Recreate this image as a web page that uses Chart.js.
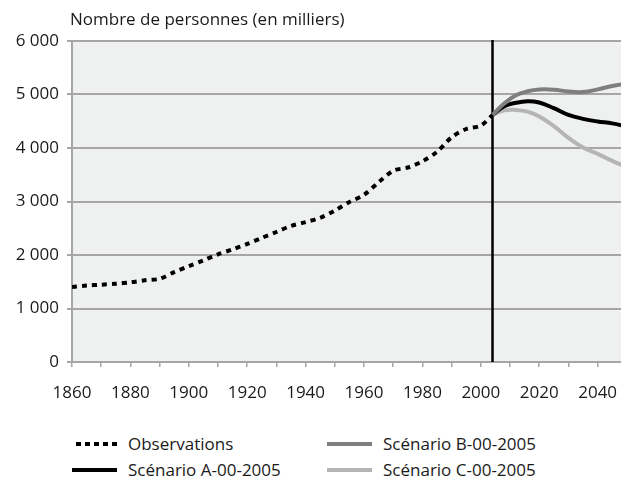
<!DOCTYPE html>
<html>
<head>
<meta charset="utf-8">
<script src="https://cdn.jsdelivr.net/npm/chart.js@4.4.1/dist/chart.umd.min.js"></script>
<style>
  body { margin: 0; background: #fff; font-family: "Open Sans", sans-serif; color: #1a1a1a; }
  #wrap { position: relative; width: 621px; height: 482px; }
  #chart { position: absolute; left: 0; top: 0; }
  .leg { position: absolute; font-size: 17px; line-height: 20px; white-space: nowrap; }
  .leg .s { position: absolute; top: 8px; width: 45px; height: 4px; }
  .leg .t { position: absolute; left: 56px; top: 0; }
</style>
</head>
<body>
<div id="wrap">
  <canvas id="chart" width="621" height="415"></canvas>
  <div id="legende"></div>
</div>
<script>
// Valeurs (milliers de personnes)
const anneesObs = [1860, 1865, 1870, 1875, 1880, 1885, 1890, 1895, 1900, 1905, 1910, 1915, 1920, 1925, 1930,
  1935, 1940, 1945, 1950, 1955, 1960, 1965, 1970, 1975, 1980, 1985, 1990, 1995, 2000, 2004];
const observations = [1400, 1428, 1445, 1462, 1490, 1528, 1555, 1680, 1790, 1900, 2013, 2105, 2206, 2320, 2430,
  2545, 2615, 2695, 2830, 2990, 3125, 3360, 3575, 3635, 3750, 3930, 4200, 4355, 4420, 4617];

const anneesProj = [2004, 2008, 2012, 2016, 2020, 2025, 2030, 2035, 2040, 2045, 2050];
const scenarioA = [4617, 4780, 4845, 4875, 4850, 4745, 4620, 4545, 4495, 4460, 4400];
const scenarioB = [4617, 4830, 4985, 5060, 5095, 5090, 5055, 5045, 5095, 5160, 5200];
const scenarioC = [4617, 4705, 4712, 4680, 4590, 4410, 4190, 4010, 3890, 3760, 3640];

const anneeCoupure = 2004;
const graduationsX = [1860, 1870, 1880, 1890, 1900, 1910, 1920, 1930, 1940, 1950, 1960, 1970, 1980, 1990,
  2000, 2010, 2020, 2030, 2040];
const titreY = 'Nombre de personnes (en milliers)';

const police = "'Open Sans', sans-serif";
const gris = '#a6a6a6';

function points(xs, ys) {
  return xs.map((x, i) => ({ x: x, y: ys[i] }));
}

const series = [
  { label: 'Observations', data: points(anneesObs, observations), borderColor: '#000', borderDash: [5, 5], tension: 0.3 },
  { label: 'Scénario B-00-2005', data: points(anneesProj, scenarioB), borderColor: '#7f7f7f', tension: 0.4 },
  { label: 'Scénario A-00-2005', data: points(anneesProj, scenarioA), borderColor: '#000', tension: 0.4 },
  { label: 'Scénario C-00-2005', data: points(anneesProj, scenarioC), borderColor: '#b5b5b5', tension: 0.4 }
];

// fond gris, trait vertical et titre de l'axe
const decor = {
  id: 'decor',
  beforeDraw(chart) {
    const a = chart.chartArea, c = chart.ctx;
    c.save();
    c.fillStyle = '#eff0f0';
    c.fillRect(a.left, a.top, a.right - a.left, a.bottom - a.top);
    c.fillStyle = '#1a1a1a';
    c.font = '17px ' + police;
    c.textBaseline = 'middle';
    c.fillText(titreY, a.left - 2, a.top - 21);
    c.restore();
  },
  beforeDatasetsDraw(chart) {
    const a = chart.chartArea, c = chart.ctx;
    const x = chart.scales.x.getPixelForValue(anneeCoupure);
    c.save();
    c.strokeStyle = '#000';
    c.lineWidth = 2.5;
    c.beginPath();
    c.moveTo(x, a.top - 1);
    c.lineTo(x, a.bottom);
    c.stroke();
    c.restore();
  }
};

const ctx = document.getElementById('chart').getContext('2d');
new Chart(ctx, {
  type: 'line',
  data: {
    datasets: series.map(s => Object.assign({ borderWidth: 4, pointRadius: 0, fill: false, borderCapStyle: 'butt' }, s))
  },
  options: {
    responsive: false,
    animation: false,
    layout: { padding: { top: 41, right: 0, left: 0, bottom: 0 } },
    plugins: { legend: { display: false }, tooltip: { enabled: false } },
    scales: {
      x: {
        type: 'linear',
        min: 1860,
        max: 2048,
        afterBuildTicks(scale) { scale.ticks = graduationsX.map(v => ({ value: v })); },
        afterFit(scale) {
          scale.height = 53;
          scale.paddingLeft = 0;
          scale.paddingRight = 0;
        },
        ticks: {
          autoSkip: false,
          maxRotation: 0,
          color: '#1a1a1a',
          font: { family: police, size: 17 },
          padding: 16,
          callback: v => (v % 20 === 0 ? String(v) : '')
        },
        grid: { drawOnChartArea: false, drawTicks: true, tickLength: 5, color: gris, lineWidth: 1.5 },
        border: { color: gris, width: 2 }
      },
      y: {
        min: 0,
        max: 6000,
        afterFit(scale) { scale.width = 72; },
        ticks: {
          stepSize: 1000,
          color: '#1a1a1a',
          font: { family: police, size: 17 },
          padding: 8,
          callback: v => String(v).replace(/\B(?=(\d{3})+(?!\d))/g, ' ')
        },
        grid: { color: gris, lineWidth: 2, tickLength: 5 },
        border: { color: gris, width: 2 }
      }
    }
  },
  plugins: [decor]
});

// légende en deux colonnes
const placement = [
  { left: 72, top: 434 },
  { left: 327, top: 434 },
  { left: 72, top: 460 },
  { left: 327, top: 460 }
];
const legende = document.getElementById('legende');
series.forEach((s, i) => {
  const d = document.createElement('div');
  d.className = 'leg';
  d.style.left = placement[i].left + 'px';
  d.style.top = placement[i].top + 'px';
  const trait = s.borderDash
    ? 'background: repeating-linear-gradient(to left, ' + s.borderColor + ' 0 5px, transparent 5px 9px);'
    : 'background:' + s.borderColor + ';';
  d.innerHTML = '<span class="s" style="' + trait + '"></span><span class="t">' + s.label + '</span>';
  legende.appendChild(d);
});
</script>
</body>
</html>
